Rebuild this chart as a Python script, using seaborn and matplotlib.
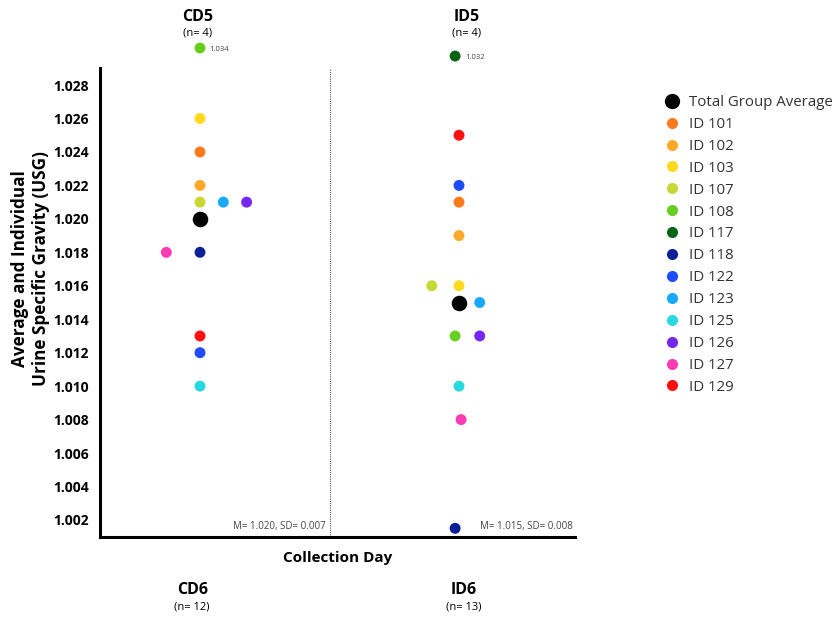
import numpy as np
import pandas as pd
import matplotlib.pyplot as plt
import seaborn as sns
from matplotlib.lines import Line2D
from matplotlib.transforms import blended_transform_factory

# 데이터: 개인별 소변 비중 (USG)
days = ["CD", "ID"]
cd_ids = ["ID 108", "ID 103", "ID 101", "ID 102", "ID 107", "ID 123", "ID 126",
          "ID 127", "ID 118", "ID 129", "ID 122", "ID 125"]
cd_usg = [1.034, 1.026, 1.024, 1.022, 1.021, 1.021, 1.021,
          1.018, 1.018, 1.013, 1.012, 1.010]
id_ids = ["ID 117", "ID 129", "ID 122", "ID 101", "ID 102", "ID 107", "ID 103",
          "ID 123", "ID 108", "ID 126", "ID 125", "ID 127", "ID 118"]
id_usg = [1.032, 1.025, 1.022, 1.021, 1.019, 1.016, 1.016,
          1.015, 1.013, 1.013, 1.010, 1.008, 1.0015]
group_mean = [1.020, 1.015]
group_sd = [0.007, 0.008]
top_labels = ["CD5", "ID5"]
top_n = [4, 4]
bottom_labels = ["CD6", "ID6"]
bottom_n = [12, 13]

legend_ids = ["ID 101", "ID 102", "ID 103", "ID 107", "ID 108", "ID 117", "ID 118",
              "ID 122", "ID 123", "ID 125", "ID 126", "ID 127", "ID 129"]
colors = ["#FF7A1C", "#FFA92A", "#FFD91C", "#C5D833", "#66CF22", "#0A6416", "#0B1F96",
          "#1F4BFF", "#18A8FF", "#2AD9DF", "#7428EE", "#FF3AB5", "#FF0F0F"]
palette = dict(zip(legend_ids, colors))

# 겹치는 점을 옆으로 밀어내는 오프셋 (그림 배치용)
nudge = {("CD", "ID 127"): -0.13, ("CD", "ID 123"): 0.09, ("CD", "ID 126"): 0.18,
         ("ID", "ID 107"): -0.105, ("ID", "ID 123"): 0.08, ("ID", "ID 126"): 0.08,
         ("ID", "ID 117"): -0.015, ("ID", "ID 108"): -0.015, ("ID", "ID 118"): -0.015,
         ("ID", "ID 127"): 0.008}

Y_LO, Y_HI = 1.00098, 1.02902

df = pd.concat([
    pd.DataFrame({"day": "CD", "id": cd_ids, "usg": cd_usg}),
    pd.DataFrame({"day": "ID", "id": id_ids, "usg": id_usg}),
], ignore_index=True)
df["x"] = [days.index(d) + nudge.get((d, i), 0.0) for d, i in zip(df["day"], df["id"])]
df["outlier"] = df["usg"] > Y_HI
# 축 범위를 넘는 값은 위쪽에 압축해서 표시
df["y"] = np.where(df["outlier"], Y_HI + (df["usg"] - Y_HI) * 0.24, df["usg"])

avg = pd.DataFrame({"x": [0, 1], "y": group_mean})

plt.rcParams["font.family"] = ["Open Sans", "DejaVu Sans"]
fig = plt.figure(figsize=(8.38, 6.22), dpi=100)
ax = fig.add_axes([100 / 838, 1 - 537 / 622, 475 / 838, 469 / 622])

sns.scatterplot(data=df[~df["outlier"]], x="x", y="y", hue="id", palette=palette,
                s=62, linewidth=0, legend=False, ax=ax, zorder=3)
sns.scatterplot(data=df[df["outlier"]], x="x", y="y", hue="id", palette=palette,
                s=62, linewidth=0, legend=False, ax=ax, zorder=3)
ax.collections[-1].set_clip_on(False)
sns.scatterplot(data=avg, x="x", y="y", color="black", s=125, linewidth=0,
                legend=False, ax=ax, zorder=4)

ax.set_xlim(-100 / 259, 1 + 116 / 259)
ax.set_ylim(Y_LO, Y_HI)
ax.set_yticks(np.arange(1.002, 1.0285, 0.002))
ax.set_yticklabels([f"{v:.3f}" for v in np.arange(1.002, 1.0285, 0.002)],
                   fontweight="bold", fontsize=10)
ax.set_xticks([])
ax.tick_params(axis="y", length=0, pad=8)
for side in ["top", "right"]:
    ax.spines[side].set_visible(False)
ax.spines["left"].set_linewidth(2.2)
ax.spines["bottom"].set_linewidth(2.2)
ax.axvline(0.5, color="#555555", linestyle=(0, (1, 1)), linewidth=0.8)

ax.set_xlabel("Collection Day", fontweight="bold", fontsize=11, labelpad=10)
ax.set_ylabel("Average and Individual\nUrine Specific Gravity (USG)",
              fontweight="bold", fontsize=12.3)
ax.yaxis.set_label_coords(-0.106, 0.572)

# 이상치 값 라벨
for _, r in df[df["outlier"]].iterrows():
    ax.annotate(f"{r['usg']:.3f}", (r["x"], r["y"]), xytext=(7, -1),
                textcoords="offset points", fontsize=5.5, color="#444444",
                va="center", annotation_clip=False)

# 평균/표준편차 표시
mean_x = [0.485, 1.44]
for i in range(2):
    ax.text(mean_x[i], 1.0013, f"M= {group_mean[i]:.3f}, SD= {group_sd[i]:.3f}",
            fontsize=7, color="#444444", ha="right", va="bottom")

# 위/아래 그룹 라벨
tr = blended_transform_factory(ax.transData, fig.transFigure)
top_x = [-0.01, 1.03]
bot_x = [-0.03, 1.02]
for i in range(2):
    ax.text(top_x[i], 1 - 17 / 622, top_labels[i], transform=tr, ha="center",
            va="center", fontweight="bold", fontsize=11.5)
    ax.text(top_x[i], 1 - 33 / 622, f"(n= {top_n[i]})", transform=tr, ha="center",
            va="center", fontsize=8)
    ax.text(bot_x[i], 1 - 590 / 622, bottom_labels[i], transform=tr, ha="center",
            va="center", fontweight="bold", fontsize=11.5)
    ax.text(bot_x[i], 1 - 607 / 622, f"(n= {bottom_n[i]})", transform=tr, ha="center",
            va="center", fontsize=8)

handles = [Line2D([], [], marker="o", linestyle="", markersize=11,
                  markerfacecolor="black", markeredgewidth=0)]
handles += [Line2D([], [], marker="o", linestyle="", markersize=8,
                   markerfacecolor=palette[k], markeredgewidth=0) for k in legend_ids]
labels = ["Total Group Average"] + legend_ids
fig.legend(handles, labels, loc="upper left", bbox_to_anchor=(657 / 838, 1 - 89 / 622),
           frameon=False, fontsize=10.8, labelcolor="#333333", handletextpad=0.55,
           labelspacing=0.46, borderaxespad=0, handlelength=1.2)

fig.savefig("out.png", dpi=100)
